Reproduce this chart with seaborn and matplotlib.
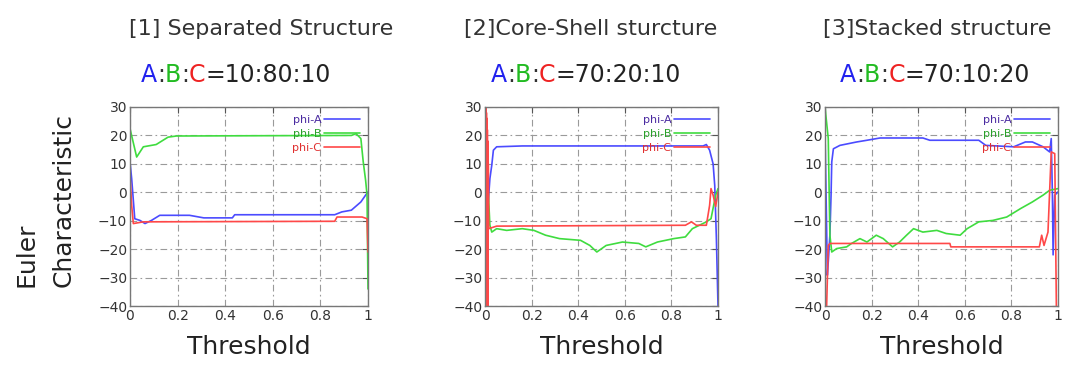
import numpy as np
import pandas as pd
import matplotlib
matplotlib.use("Agg")
import matplotlib.pyplot as plt
import seaborn as sns

# ---- data ----
titles = ["[1] Separated Structure", "[2]Core-Shell sturcture", "[3]Stacked structure"]
ratios = ["=10:80:10", "=70:20:10", "=70:10:20"]
series_names = ["phi-A", "phi-B", "phi-C"]

# panel 1
p1_a_x = [0, 0.007, 0.02, 0.042, 0.063, 0.09, 0.125, 0.25, 0.31, 0.43, 0.44, 0.86, 0.89, 0.93, 0.97, 0.99, 1.0]
p1_a_y = [10.7, 4.8, -9.3, -9.9, -11, -9.9, -8.1, -8.1, -9, -9, -7.9, -7.9, -6.9, -6.3, -3.4, -1, 0.1]
p1_b_x = [0, 0.028, 0.056, 0.11, 0.16, 0.195, 0.93, 0.95, 0.97, 0.98, 0.99, 0.996, 1.0]
p1_b_y = [22.4, 12.4, 16, 16.8, 19.4, 19.8, 20, 20.6, 18.9, 10.7, 4.2, -1, -34]
p1_c_x = [0, 0.007, 0.014, 0.056, 0.86, 0.87, 0.975, 0.996, 1.0]
p1_c_y = [6, -4.6, -11, -10.4, -10.2, -8.7, -8.7, -9.3, -21]

# panel 2
p2_a_x = [0, 0.007, 0.014, 0.021, 0.029, 0.036, 0.05, 0.16, 0.936, 0.95, 0.964, 0.979, 0.986, 0.993, 1.0]
p2_a_y = [14, 3.6, -3.4, 4.8, 9.5, 14.8, 16, 16.3, 16.3, 16.8, 14.8, 10, 2.4, -16, -40]
p2_b_x = [0, 0.007, 0.014, 0.021, 0.029, 0.05, 0.093, 0.16, 0.21, 0.26, 0.32, 0.41, 0.45, 0.48, 0.52,
          0.59, 0.66, 0.69, 0.74, 0.81, 0.86, 0.89, 0.95, 0.97, 0.99, 1.0]
p2_b_y = [24, 13, 0.1, -11.6, -14, -12.8, -13.4, -12.8, -13.4, -15.1, -16.3, -16.9, -18.7, -21, -18.7,
          -17.5, -18, -19.2, -17.5, -16.3, -15.7, -12.8, -10.4, -9.3, -1, 1.3]
p2_c_x = [0, 0.001, 0.002, 0.003, 0.004, 0.005, 0.006, 0.007, 0.008, 0.009, 0.010, 0.011, 0.012,
          0.013, 0.014, 0.016, 0.05, 0.86, 0.886, 0.907, 0.95, 0.964, 0.97, 0.979, 0.99, 1.0]
p2_c_y = [30, -40, 30, -40, 30, -40, 28, -40, 26, -40, 22, -40, 18, -40, 10, -12.8, -11.9, -11.6, -10.4,
          -11.6, -11.6, -4.6, 1.3, -1, -5, 0]

# panel 3
p3_a_x = [0, 0.007, 0.01, 0.014, 0.021, 0.026, 0.029, 0.036, 0.064, 0.136, 0.18, 0.236, 0.42, 0.45,
          0.66, 0.69, 0.81, 0.86, 0.89, 0.936, 0.964, 0.971, 0.976, 0.979, 0.986, 1.0]
p3_a_y = [21.2, -12.8, -29.2, -24.5, -15.1, -1, 10.7, 15.3, 16.5, 17.7, 18.3, 19.1, 19.1, 18.3,
          18.3, 16.5, 16, 17.7, 17.7, 16, 14.2, 18.9, -1, -22, -1, 0.1]
p3_b_x = [0, 0.014, 0.021, 0.029, 0.05, 0.093, 0.114, 0.15, 0.18, 0.22, 0.25, 0.29, 0.32, 0.35, 0.38,
          0.42, 0.48, 0.52, 0.58, 0.61, 0.66, 0.72, 0.78, 0.84, 0.89, 0.936, 0.964, 1.0]
p3_b_y = [30, 18.9, -15.1, -21, -19.8, -19.2, -18, -16.3, -17.5, -15.1, -16.3, -19.2, -17.5, -15.1, -12.8,
          -14, -13.4, -14.5, -15.1, -12.8, -10.4, -9.9, -8.7, -5.7, -3.4, -1, 0.7, 1.3]
p3_c_x = [0, 0.007, 0.014, 0.021, 0.093, 0.536, 0.54, 0.92, 0.93, 0.94, 0.957, 0.971, 0.986, 0.993]
p3_c_y = [-40, -40, -18.7, -18, -18, -18, -19.2, -19.2, -15.1, -18.7, -14, 14.2, 13.6, -40]

panels = [
    [(p1_a_x, p1_a_y), (p1_b_x, p1_b_y), (p1_c_x, p1_c_y)],
    [(p2_a_x, p2_a_y), (p2_b_x, p2_b_y), (p2_c_x, p2_c_y)],
    [(p3_a_x, p3_a_y), (p3_b_x, p3_b_y), (p3_c_x, p3_c_y)],
]

colors = {"phi-A": "#4b4bff", "phi-B": "#3fdc3f", "phi-C": "#ff4848"}
text_colors = {"phi-A": "#4a2aa0", "phi-B": "#2aa02a", "phi-C": "#e03030"}

sns.set_style("white")
plt.rcParams["font.family"] = ["DejaVu Sans"]

fig = plt.figure(figsize=(10.73, 3.67), dpi=100)
W, H = 1073, 367
ax_left = [130, 485, 825]
ax_w = [238, 233, 233]
ax_top, ax_bot = 107, 306
title_cx = [261, 591, 937]
ratio_cx = [236, 586, 935]

axes = []
for i in range(3):
    ax = fig.add_axes([ax_left[i] / W, (H - ax_bot) / H, ax_w[i] / W, (ax_bot - ax_top) / H])
    axes.append(ax)
    rows = []
    for name, (xs, ys) in zip(series_names, panels[i]):
        for x, y in zip(xs, ys):
            rows.append({"threshold": x, "value": y, "series": name})
    df = pd.DataFrame(rows)
    sns.lineplot(data=df, x="threshold", y="value", hue="series", palette=colors,
                 estimator=None, sort=False, lw=1.2, ax=ax, legend=False)
    for name in series_names:
        ax.plot([], [], color=colors[name], lw=1.2, label=name)
    leg = ax.legend(loc="upper right", frameon=False, markerfirst=False, fontsize=8,
                    handlelength=3.3, handletextpad=0.2, labelspacing=0.35,
                    borderaxespad=0.3, borderpad=0.4)
    for t, name in zip(leg.get_texts(), series_names):
        t.set_color(text_colors[name])

    ax.set_xlim(0, 1)
    ax.set_ylim(-40, 30)
    ax.set_xticks([0, 0.2, 0.4, 0.6, 0.8, 1])
    ax.set_xticklabels(["0", "0.2", "0.4", "0.6", "0.8", "1"])
    ax.set_yticks([-40, -30, -20, -10, 0, 10, 20, 30])
    ax.tick_params(direction="in", top=True, right=True, length=4, width=0.8,
                   labelsize=10, labelcolor="#333333", color="#555555", pad=2)
    ax.grid(True, color="#9a9a9a", lw=0.8, ls=(0, (6, 3, 1.5, 3)))
    for s in ax.spines.values():
        s.set_color("#777777")
        s.set_linewidth(1.0)
    ax.set_xlabel("Threshold", fontsize=18, color="#222222", labelpad=9)
    ax.set_ylabel("")

    fig.text(title_cx[i] / W, (H - 35) / H, titles[i], fontsize=16, color="#333333",
             ha="center", va="baseline")

# colored A:B:C lines
renderer = fig.canvas.get_renderer()
pieces_col = [("A", "#2222ee"), (":", "#333333"), ("B", "#22bb22"), (":", "#333333"), ("C", "#ee2222")]
for i in range(3):
    pieces = pieces_col + [(ratios[i], "#222222")]
    objs = [fig.text(0, (H - 82) / H, s, fontsize=17, color=c, va="baseline", ha="left") for s, c in pieces]
    widths = [o.get_window_extent(renderer).width for o in objs]
    x = ratio_cx[i] - sum(widths) / 2
    for o, w in zip(objs, widths):
        o.set_x(x / W)
        x += w

fig.text(45 / W, (H - 287) / H, "Euler\nCharacteristic", fontsize=18, color="#222222",
         rotation=90, ha="center", va="bottom", multialignment="left", linespacing=1.7)

fig.savefig("out.png", dpi=100)
